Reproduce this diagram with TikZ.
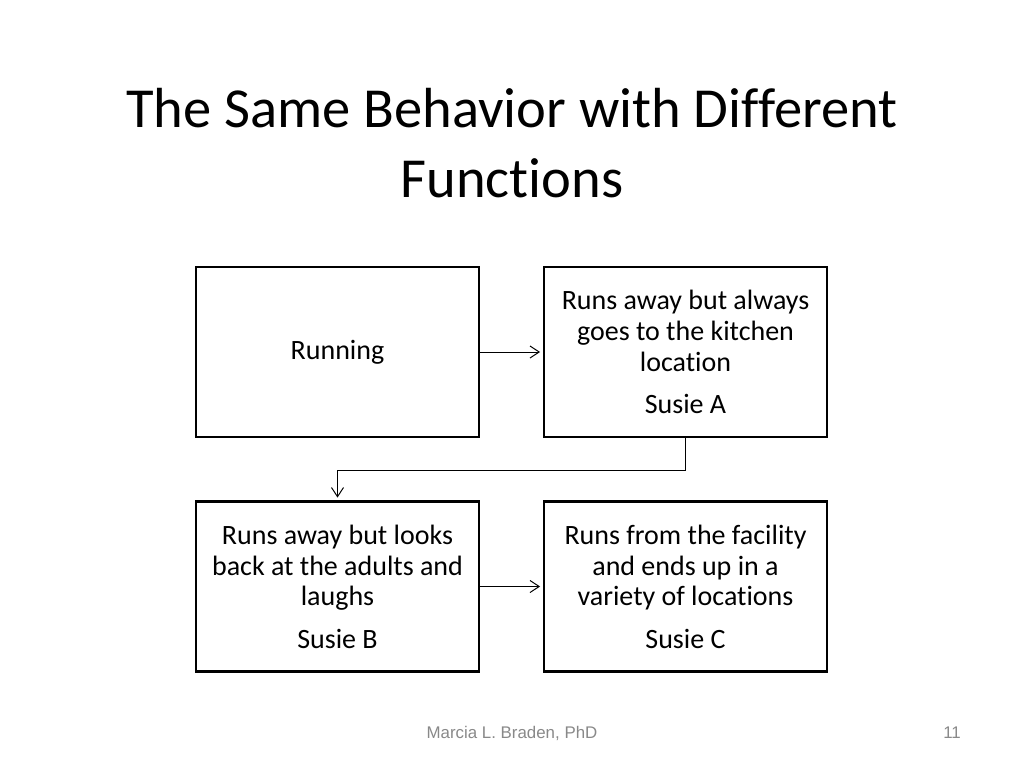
\documentclass[tikz,border=0pt]{standalone}
\usepackage{fontspec}
\setmainfont[Ligatures=NoCommon]{Carlito}
\newfontfamily\footfont{Liberation Sans}
\usepackage{tikz}
\usepackage{xcolor}
\usetikzlibrary{arrows.meta, positioning, calc}
\definecolor{cFoot}{RGB}{137,137,137}
\tikzset{
	fbox/.style ={rectangle, draw=black, line width=1.5pt, minimum width=7.075cm, minimum height=4.25cm, inner sep=0pt, align=center, font=\fontsize{19.9}{22}\selectfont},
	flow/.style ={-{Straight Barb[length=2.3mm, width=3mm]}, line width=0.7pt, shorten >=2pt},
}

\begin{document}
\begin{tikzpicture}[x=0.025cm, y=-0.025cm]
	\useasboundingbox (0,0) rectangle (1024,768);
	% title
	\node[align=center, font=\fontsize{40.2}{50}\selectfont] (title) at (512,143) {The Same Behavior with Different\\Functions};
	% boxes
	\node[fbox] (run)  at (337.5,352) {Running};
	\node[fbox] (susA) at (685.5,352) {Runs away but always\\goes to the kitchen\\location\\[8pt]Susie A};
	\node[fbox] (susB) at (337.5,586.5) {Runs away but looks\\back at the adults and\\laughs\\[8pt]Susie B};
	\node[fbox] (susC) at (685.5,586.5) {Runs from the facility\\and ends up in a\\variety of locations\\[8pt]Susie C};
	% connectors
	\draw[flow] (run) -- (susA);
	\draw[flow] (susA.south) -- ++(0,32) -| (susB.north);
	\draw[flow] (susB) -- (susC);
	% footer
	\node[font=\footfont\fontsize{12}{14}\selectfont, text=cFoot] (foot) at (512,733) {Marcia L. Braden, PhD};
	\node[font=\footfont\fontsize{12}{14}\selectfont, text=cFoot] (page) at (952,733) {11};
\end{tikzpicture}
\end{document}
